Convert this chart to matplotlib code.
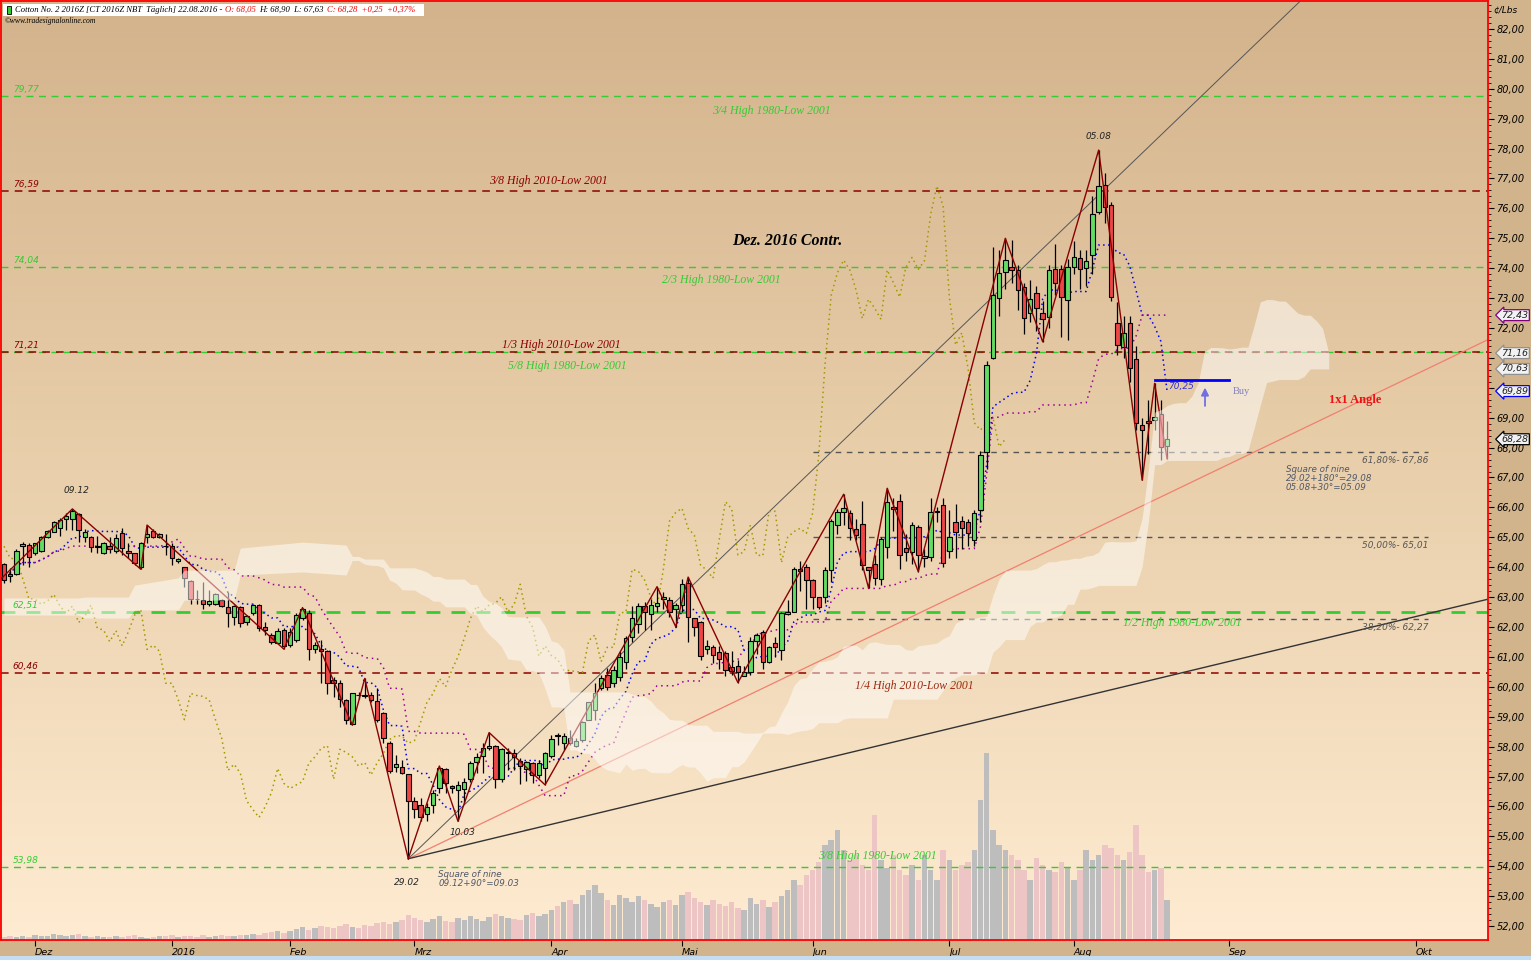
import numpy as np
import pandas as pd
import matplotlib
matplotlib.use("Agg")
import matplotlib.pyplot as plt
from matplotlib.colors import LinearSegmentedColormap
from matplotlib.transforms import blended_transform_factory

# Cotton No. 2 Dez 2016 (CT 2016Z), daily bars
opens = [64.10, 63.76, 63.77, 64.71, 64.74, 64.49, 64.55, 65.00, 65.19, 65.30,
         65.60, 65.60, 65.78, 65.00, 65.00, 64.69, 64.49, 64.72, 64.54, 65.13,
         64.54, 64.46, 63.99, 65.02, 65.21, 65.02, 64.71, 64.71, 64.21, 63.99,
         63.54, 62.95, 62.90, 62.77, 62.76, 62.90, 62.68, 62.32, 62.68, 62.18,
         62.46, 62.74, 61.99, 61.73, 61.48, 61.90, 61.40, 61.57, 62.31, 62.48,
         61.25, 61.27, 61.20, 60.23, 60.12, 59.56, 58.76, 59.72, 59.73, 59.73,
         59.52, 59.13, 58.13, 57.31, 57.33, 57.07, 56.18, 56.05, 55.75, 56.05,
         56.60, 57.24, 56.68, 56.55, 56.57, 56.91, 57.50, 57.69, 57.94, 58.02,
         56.91, 57.80, 57.77, 57.53, 57.25, 57.44, 57.05, 57.27, 57.68, 58.37,
         58.11, 58.28, 58.03, 58.22, 58.90, 59.22, 59.95, 60.39, 60.12, 60.34,
         60.84, 61.68, 62.10, 62.70, 62.43, 62.70, 62.93, 62.90, 62.59, 62.74,
         63.46, 62.29, 62.16, 61.25, 61.34, 61.17, 61.14, 60.65, 60.70, 60.36,
         60.48, 61.54, 61.84, 60.84, 61.45, 61.23, 62.44, 62.51, 63.95, 64.00,
         63.57, 62.99, 62.99, 63.91, 65.41, 65.83, 65.80, 65.27, 65.43, 63.99,
         64.10, 63.60, 64.69, 66.00, 66.23, 64.63, 64.52, 65.33, 64.30, 64.35,
         65.86, 66.08, 64.55, 65.52, 65.56, 65.52, 64.91, 65.91, 67.86, 70.99,
         72.99, 73.88, 74.03, 73.94, 73.38, 72.49, 73.16, 72.49, 72.38, 73.96,
         73.96, 72.94, 74.03, 74.33, 74.00, 74.44, 75.89, 76.78, 76.11, 72.18,
         71.37, 72.18, 70.95, 68.75, 68.90, 68.92, 69.14, 68.05]
highs = [64.15, 63.96, 64.60, 64.85, 64.80, 64.82, 65.04, 65.24, 65.56, 65.63,
         65.80, 65.95, 65.82, 65.27, 65.04, 65.04, 64.85, 65.02, 65.10, 65.30,
         64.80, 64.49, 64.85, 65.41, 65.27, 65.13, 65.10, 64.80, 64.30, 64.02,
         63.57, 63.24, 63.52, 63.24, 63.13, 62.93, 63.18, 62.73, 62.70, 62.40,
         62.77, 62.77, 62.18, 61.79, 61.96, 61.98, 61.96, 62.46, 62.65, 62.57,
         61.51, 61.56, 61.23, 60.34, 60.23, 59.58, 59.80, 59.84, 60.28, 59.84,
         59.95, 59.17, 58.20, 57.72, 57.55, 57.07, 56.32, 56.29, 56.10, 56.55,
         57.35, 57.27, 56.72, 56.86, 56.94, 57.53, 57.77, 58.11, 58.47, 58.05,
         57.94, 57.94, 57.91, 57.61, 57.53, 57.50, 57.55, 57.83, 58.39, 58.44,
         58.44, 58.55, 58.28, 58.87, 59.50, 60.12, 60.39, 60.62, 60.70, 61.20,
         61.70, 62.70, 62.80, 62.85, 62.95, 63.35, 63.18, 63.00, 62.80, 63.60,
         63.67, 62.30, 62.20, 61.55, 61.40, 61.35, 61.20, 61.20, 60.90, 60.70,
         61.65, 61.80, 61.90, 61.35, 61.65, 62.50, 62.90, 64.00, 64.20, 64.10,
         63.60, 63.00, 64.00, 65.60, 65.95, 66.44, 65.90, 65.60, 66.20, 64.00,
         64.40, 65.00, 66.64, 66.30, 66.45, 65.10, 65.50, 65.40, 64.60, 66.30,
         66.00, 66.30, 65.90, 66.10, 65.70, 65.60, 65.90, 67.90, 70.90, 74.72,
         74.60, 75.00, 74.95, 74.10, 73.50, 73.60, 73.40, 72.90, 74.10, 74.80,
         74.10, 74.30, 74.90, 74.60, 74.60, 76.40, 77.95, 77.20, 76.20, 72.87,
         72.40, 72.40, 71.40, 69.00, 69.60, 70.15, 69.60, 68.90]
lows = [63.46, 63.52, 63.74, 64.07, 64.02, 64.41, 64.52, 64.97, 65.17, 65.04,
        65.24, 65.24, 64.85, 64.85, 64.50, 64.47, 64.44, 64.47, 64.49, 64.41,
        64.30, 64.07, 63.93, 64.80, 64.97, 64.97, 64.41, 64.07, 64.13, 63.35,
        62.77, 62.77, 62.59, 62.70, 62.74, 62.68, 62.01, 62.07, 62.01, 62.07,
        62.40, 61.88, 61.73, 61.43, 61.43, 61.26, 61.34, 61.51, 62.23, 60.90,
        61.12, 60.12, 59.76, 59.65, 59.34, 58.76, 58.72, 59.60, 59.61, 59.50,
        58.83, 58.11, 57.13, 57.16, 57.08, 54.25, 55.60, 55.52, 55.52, 55.79,
        56.46, 56.46, 56.44, 55.50, 56.10, 56.83, 57.13, 57.11, 57.88, 56.60,
        56.83, 57.22, 57.22, 56.74, 56.86, 56.77, 56.94, 56.72, 57.61, 58.05,
        57.89, 58.05, 57.99, 58.16, 58.88, 58.88, 59.89, 59.89, 60.00, 60.20,
        60.60, 61.50, 61.80, 61.90, 61.90, 62.50, 62.60, 62.35, 62.01, 62.50,
        61.50, 61.70, 60.90, 61.10, 60.80, 60.60, 60.35, 60.40, 60.14, 60.35,
        60.40, 61.10, 60.60, 60.80, 61.00, 60.90, 62.40, 62.50, 63.20, 62.60,
        62.60, 62.60, 62.80, 63.50, 65.10, 65.40, 64.90, 64.90, 63.90, 63.31,
        63.40, 63.40, 64.30, 65.20, 63.95, 64.20, 64.10, 63.85, 64.00, 64.20,
        65.50, 64.00, 64.30, 64.30, 64.60, 64.70, 64.70, 65.50, 67.30, 70.95,
        72.40, 73.30, 73.50, 72.60, 71.80, 72.20, 71.90, 71.54, 72.00, 73.10,
        71.70, 71.60, 73.80, 73.30, 73.40, 73.80, 75.80, 75.50, 72.90, 71.10,
        71.00, 70.20, 68.60, 66.91, 67.80, 68.60, 67.60, 67.63]
closes = [63.57, 63.70, 64.55, 64.78, 64.33, 64.80, 65.00, 65.21, 65.50, 65.58,
          65.71, 65.89, 65.24, 65.17, 64.69, 64.70, 64.80, 64.60, 64.97, 64.63,
          64.46, 64.13, 64.82, 65.10, 65.00, 65.10, 64.70, 64.30, 64.27, 63.63,
          62.94, 62.93, 62.76, 62.87, 63.09, 62.70, 62.46, 62.70, 62.15, 62.37,
          62.74, 61.96, 61.90, 61.51, 61.88, 61.37, 61.84, 62.40, 62.59, 61.25,
          61.39, 61.19, 60.12, 60.12, 59.58, 58.90, 59.78, 59.71, 59.68, 59.56,
          58.90, 58.28, 57.20, 57.41, 57.11, 56.19, 55.90, 55.63, 55.99, 56.46,
          57.27, 56.77, 56.60, 56.72, 56.83, 57.44, 57.66, 57.94, 58.03, 56.91,
          57.91, 57.81, 57.66, 57.35, 57.47, 57.05, 57.46, 57.77, 58.24, 58.36,
          58.36, 58.11, 58.20, 58.83, 59.48, 59.78, 60.28, 60.00, 60.56, 61.01,
          61.62, 62.29, 62.70, 62.51, 62.74, 62.79, 63.01, 62.51, 62.74, 63.43,
          62.35, 61.99, 61.03, 61.37, 61.05, 60.92, 60.56, 60.54, 60.51, 60.48,
          61.54, 61.73, 60.84, 61.32, 61.32, 62.46, 62.51, 63.93, 63.86, 63.57,
          62.99, 62.66, 63.91, 65.54, 65.83, 65.97, 65.30, 65.07, 64.07, 63.90,
          63.63, 64.93, 66.19, 65.95, 64.41, 64.52, 65.41, 64.41, 64.38, 65.86,
          65.87, 64.15, 65.00, 65.19, 65.30, 65.13, 65.80, 67.75, 70.76, 73.10,
          73.85, 74.27, 73.94, 73.27, 72.32, 72.96, 72.66, 72.29, 73.94, 73.52,
          73.03, 74.03, 74.36, 73.96, 74.25, 75.81, 76.75, 76.06, 73.03, 71.43,
          71.84, 70.65, 68.83, 68.59, 68.81, 69.01, 68.03, 68.28]
# volume, hundreds of contracts (estimated)
volume = [3, 4, 3, 4, 3, 5, 4, 4, 6, 5, 4, 5, 6, 4, 3, 4, 3, 3, 4, 3,
          4, 5, 3, 2, 3, 4, 4, 5, 3, 4, 4, 3, 5, 3, 4, 5, 4, 4, 5, 5,
          6, 5, 7, 8, 9, 7, 9, 11, 13, 10, 12, 14, 13, 12, 14, 16, 13, 12, 15, 14,
          17, 18, 16, 18, 20, 25, 22, 20, 18, 21, 24, 19, 18, 22, 20, 24, 21, 19, 23, 26,
          24, 22, 21, 20, 25, 27, 24, 26, 30, 34, 38, 40, 36, 45, 50, 55, 47, 40, 35, 45,
          42, 38, 44, 40, 36, 33, 38, 40, 35, 45, 48, 42, 38, 35, 40, 36, 34, 38, 32, 30,
          42, 36, 40, 33, 38, 44, 50, 60, 55, 65, 70, 78, 95, 100, 110, 90, 80, 85, 75, 70,
          125, 80, 72, 85, 70, 65, 75, 60, 85, 70, 60, 90, 80, 70, 75, 78, 90, 140, 187, 110,
          95, 90, 85, 80, 70, 60, 82, 75, 70, 68, 78, 72, 60, 70, 90, 80, 85, 95, 92, 85,
          80, 88, 115, 85, 68, 70, 72, 40]

holidays = ["2015-11-26", "2015-12-25", "2016-01-01", "2016-01-18", "2016-02-15",
            "2016-03-25", "2016-05-30", "2016-07-04"]
dates = pd.bdate_range("2015-11-23", "2016-08-22", freq="C", holidays=holidays)

# swing points of the zigzag (bar index, price)
zz_idx = [-2, 11, 22, 23, 45, 48, 56, 58, 65, 70, 73, 78, 87, 105, 108, 110, 118,
          135, 139, 142, 147, 161, 167, 176, 183, 185, 187]
zz_px = [63.30, 65.95, 63.93, 65.41, 61.26, 62.65, 58.72, 60.28, 54.25, 57.35, 55.50,
         58.47, 56.72, 63.35, 62.01, 63.67, 60.14, 66.44, 63.31, 66.64, 63.85, 75.00,
         71.54, 77.95, 66.91, 70.15, 67.63]

# cloud edges before enough history exists
cloud_lead_idx = [0, 12, 13, 20, 21, 28, 29, 37, 38, 48, 55]
cloud_lead_top = [62.97, 62.97, 63.00, 63.00, 63.40, 63.64, 63.90, 63.90, 64.64, 64.84, 64.74]
cloud_lead_bot = [62.40, 62.40, 62.30, 62.30, 62.57, 62.57, 62.90, 62.90, 63.74, 63.84, 63.74]

green_levels = [79.77, 74.04, 71.21, 62.51, 53.98]
red_levels = [76.59, 71.21, 60.46]
fib_levels = [67.86, 65.01, 62.27]
fib_names = ["61,80%", "50,00%", "38,20%"]
gann_slopes = [0.2, 0.1, 0.05]
buy_level = 70.25


def fmt(v):
    return f"{v + 1e-9:.2f}".replace(".", ",")


n = len(closes)
x = np.arange(n)
o = np.array(opens); h = np.array(highs); l = np.array(lows); c = np.array(closes)

# ichimoku
hs, ls = pd.Series(h), pd.Series(l)
tenkan = (hs.rolling(9, min_periods=1).max() + ls.rolling(9, min_periods=1).min()) / 2
kijun = (hs.rolling(26, min_periods=1).max() + ls.rolling(26, min_periods=1).min()) / 2
span_a = (tenkan + kijun) / 2
span_b = (hs.rolling(52, min_periods=1).max() + ls.rolling(52, min_periods=1).min()) / 2

W, H = 1531, 960
fig = plt.figure(figsize=(W / 100, H / 100), dpi=100, facecolor="#D2B48C")
rect = [1 / W, 20 / H, 1487 / W, 939 / H]
ax_v = fig.add_axes(rect, zorder=0)
ax = fig.add_axes(rect, zorder=1, sharex=ax_v)
ax.patch.set_visible(False)

xmin, xmax = -0.48, 238.6
ymin, ymax = 51.532, 82.936

# background gradient + volume
bg = LinearSegmentedColormap.from_list("bg", ["#D3B38C", "#E9CFAB", "#FEEBD1"])
ax_v.imshow(np.linspace(0, 1, 256).reshape(-1, 1), cmap=bg, aspect="auto",
            extent=[0, 1, 0, 1], transform=ax_v.transAxes, origin="upper", zorder=0)
vcol = np.where(c >= o, "#BDBDBD", "#EEC5C5")
ax_v.bar(x, volume, width=0.88, color=vcol, linewidth=0, zorder=1)
ax_v.set_ylim(0, 939)
ax_v.set_xlim(xmin, xmax)
ax_v.axis("off")

ax.set_xlim(xmin, xmax)
ax.set_ylim(ymin, ymax)

dash = (0, (5, 4))
for lv in green_levels:
    ax.axhline(lv, color="#33CC33", lw=2.0 if lv == 62.51 else 1.0, ls=dash, zorder=1)
for lv in red_levels:
    ax.axhline(lv, color="#8B0000", lw=1.1, ls=dash, zorder=1.1)

# level values at left edge
for lv, col in [(79.77, "#33CC33"), (76.59, "#8B0000"), (74.04, "#33CC33"),
                (71.21, "#8B0000"), (62.51, "#33CC33"), (60.46, "#8B0000"), (53.98, "#33CC33")]:
    ax.text(1.4, lv + 0.07, fmt(lv), color=col, fontsize=6.5,
            style="italic", ha="left", va="bottom", zorder=6)

# fibonacci retracements
for lv, nm in zip(fib_levels, fib_names):
    ax.plot([130, 229], [lv, lv], color="#555555", lw=1.0, ls=(0, (4, 4)), zorder=1.2)
    ax.text(229, lv - 0.13, f"{nm}- {fmt(lv)}", color="#555555", fontsize=6.5,
            style="italic", ha="right", va="top", zorder=6)

# gann fan from the 29.02 low
g0 = 65
for s, col, lw in zip(gann_slopes, ["#555555", "#F08070", "#333333"], [0.7, 0.9, 1.0]):
    xe = np.array([g0, 245])
    ax.plot(xe, l[g0] + s * (xe - g0), color=col, lw=lw, zorder=1.5)

# ichimoku lines
chik_x = x[:n - 26]
ax.plot(chik_x, c[26:], color="#A09A00", lw=1.1, ls=(0, (1, 2.2)), zorder=2)
ax.plot(x, tenkan, color="#0000EE", lw=1.1, ls=(0, (1, 2.2)), zorder=2)
ax.plot(x, kijun, color="#990099", lw=1.1, ls=(0, (1, 2.6)), zorder=2)

# candles
up = c >= o
body_lo = np.minimum(o, c)
body_h = np.maximum(np.abs(c - o), 0.015)
ax.vlines(x, l, h, color="black", lw=0.9, zorder=3)
ax.bar(x, body_h, bottom=body_lo, width=0.72,
       color=np.where(up, "#62DC62", "#EE4545"), edgecolor="black", linewidth=0.8, zorder=3.1)

# zigzag
ax.plot(zz_idx, zz_px, color="#8B0000", lw=1.0, zorder=3.3)

# cloud (span A / B shifted 26 bars ahead)
start = 56
top = np.maximum(span_a, span_b).values
bot = np.minimum(span_a, span_b).values
cx = np.concatenate([cloud_lead_idx, np.arange(start, n + 26)])
ct = np.concatenate([cloud_lead_top, top[start - 26:]])
cb = np.concatenate([cloud_lead_bot, bot[start - 26:]])
ax.fill_between(cx, cb, ct, color="white", alpha=0.5, lw=0, zorder=4)

# buy setup
ax.plot([185, 197], [buy_level, buy_level], color="#0000FF", lw=2.0, zorder=5)
ax.text(189.2, buy_level - 0.05, fmt(buy_level), color="#3333CC",
        fontsize=6.5, style="italic", ha="center", va="top", zorder=6)
ax.annotate("", xy=(193.1, 70.1), xytext=(193.1, 69.3),
            arrowprops=dict(arrowstyle="-|>", color="#7070E0", lw=1.3, mutation_scale=11), zorder=6)
ax.text(197.6, 69.89, "Buy", color="#8080C0", fontsize=7.5, family="Liberation Serif",
        ha="left", va="center", zorder=6)

# level descriptions
serif = "Liberation Serif"
for txt, xi, yp, col in [("3/4 High 1980-Low 2001", 123.3, 79.26, "#33CC33"),
                         ("3/8 High 2010-Low 2001", 87.5, 76.92, "#8B0000"),
                         ("2/3 High 1980-Low 2001", 115.4, 73.61, "#33CC33"),
                         ("1/3 High 2010-Low 2001", 89.6, 71.43, "#8B0000"),
                         ("5/8 High 1980-Low 2001", 90.5, 70.73, "#33CC33"),
                         ("1/2 High 1980-Low 2001", 189.4, 62.13, "#33CC33"),
                         ("1/4 High 2010-Low 2001", 146.3, 60.03, "#9B2A10"),
                         ("3/8 High 1980-Low 2001", 140.4, 54.34, "#33CC33")]:
    ax.text(xi, yp, txt, color=col, fontsize=8.5, family=serif, style="italic",
            ha="center", va="center", zorder=6)

ax.text(126.0, 74.91, "Dez. 2016 Contr.", fontsize=11.5, family=serif, style="italic",
        weight="bold", ha="center", va="center", zorder=6)
ax.text(217.2, 69.59, "1x1 Angle", fontsize=9, family=serif, weight="bold",
        color="#EE1111", ha="center", va="center", zorder=6)

for txt, xi, yp in [("09.12", 11.6, 66.55), ("29.02", 64.8, 53.47),
                    ("10.03", 73.8, 55.14), ("05.08", 175.9, 78.39)]:
    ax.text(xi, yp, txt, fontsize=6.5, style="italic", color="#222222",
            ha="center", va="center", zorder=6)
ax.text(69.8, 53.58, "Square of nine\n09.12+90\u00b0=09.03", fontsize=6.3, style="italic",
        color="#505868", ha="left", va="center", linespacing=1.0, zorder=6)
ax.text(206.1, 66.98, "Square of nine\n29.02+180\u00b0=29.08\n05.08+30\u00b0=05.09",
        fontsize=6.3, style="italic", color="#505868", ha="left", va="center",
        linespacing=1.0, zorder=6)

# axes styling
for sp in ax.spines.values():
    sp.set_color("#FF0000")
    sp.set_linewidth(1.3)
ax.yaxis.tick_right()
yt = np.arange(52, 83, 1.0)
ax.set_yticks(yt)
ax.set_yticks(np.arange(52, 83, 0.2), minor=True)
# 70,00 and 71,00 sit under the price tags
ax.set_yticklabels(["" if v in (70.0, 71.0) else fmt(v) for v in yt])
ax.tick_params(axis="y", which="major", direction="out", length=4, pad=2, labelsize=7,
               colors="black")
ax.tick_params(axis="y", which="minor", direction="out", length=2, colors="black")
for lab in ax.get_yticklabels():
    lab.set_fontstyle("italic")

month_name = {12: "Dez", 1: "2016", 2: "Feb", 3: "Mrz", 4: "Apr", 5: "Mai",
              6: "Jun", 7: "Jul", 8: "Aug", 9: "Sep", 10: "Okt"}
tick_pos, tick_lab = [], []
for i in range(1, n):
    if dates[i].month != dates[i - 1].month:
        tick_pos.append(i)
        tick_lab.append(month_name[dates[i].month])
for d in ["2016-09-01", "2016-10-01"]:
    dt = pd.Timestamp(d)
    tick_pos.append(n - 1 + (dt - dates[-1]).days)
    tick_lab.append(month_name[dt.month])
ax.set_xticks(tick_pos)
ax.set_xticklabels(tick_lab)
ax.tick_params(axis="x", direction="out", length=4, pad=1.5, labelsize=6.8, colors="black")
for lab in ax.get_xticklabels():
    lab.set_fontstyle("italic")
    lab.set_ha("left")

# price tags on the right axis
trans = blended_transform_factory(ax.transAxes, ax.transData)
tags = [(kijun.iloc[-1], "#800080"), (span_a.iloc[-1], "#909090"),
        (span_b.iloc[-1], "#909090"), (tenkan.iloc[-1], "#0000FF"), (c[-1], "#000000")]
for val, col in tags:
    ax.text(1.009, val, fmt(val), transform=trans, fontsize=6.8,
            style="italic", color="#202020", ha="left", va="center", clip_on=False,
            zorder=10, bbox=dict(boxstyle="larrow,pad=0.1", fc="#F2F2F2", ec=col, lw=0.9))

# header: coloured pieces laid out one after another
fig.patches.append(plt.Rectangle((3 / W, 1 - 16 / H), 421 / W, 12 / H, transform=fig.transFigure,
                                 facecolor="white", edgecolor="none", zorder=5))
fig.patches.append(plt.Rectangle((0, 0), 1, 4 / H, transform=fig.transFigure,
                                 facecolor="#C4DDF2", edgecolor="none"))
fig.patches.append(plt.Rectangle((7 / W, 1 - 14 / H), 4 / W, 8 / H, transform=fig.transFigure,
                                 facecolor="#33CC33", edgecolor="black", lw=0.6, zorder=6))
renderer = fig.canvas.get_renderer()
hx = 15.0
for txt, col in [("Cotton No. 2 2016Z [CT 2016Z NBT  T\u00e4glich] 22.08.2016 -", "black"),
                 ("O: 68,05", "#EE0000"),
                 ("H: 68,90  L: 67,63", "black"),
                 ("C: 68,28  +0,25  +0,37%", "#EE0000")]:
    t = fig.text(hx / W, 1 - 10 / H, txt, fontsize=6.2, family=serif, style="italic",
                 color=col, ha="left", va="center", zorder=6)
    hx = t.get_window_extent(renderer).x1 + 3
fig.text(5 / W, 1 - 21 / H, "\u00a9www.tradesignalonline.com", fontsize=5.5, family=serif,
         style="italic", ha="left", va="center")
fig.text(1493 / W, 1 - 10 / H, "\u00a2/Lbs", fontsize=6.5, style="italic", ha="left", va="center")

fig.savefig("out.png", dpi=100, facecolor=fig.get_facecolor())
